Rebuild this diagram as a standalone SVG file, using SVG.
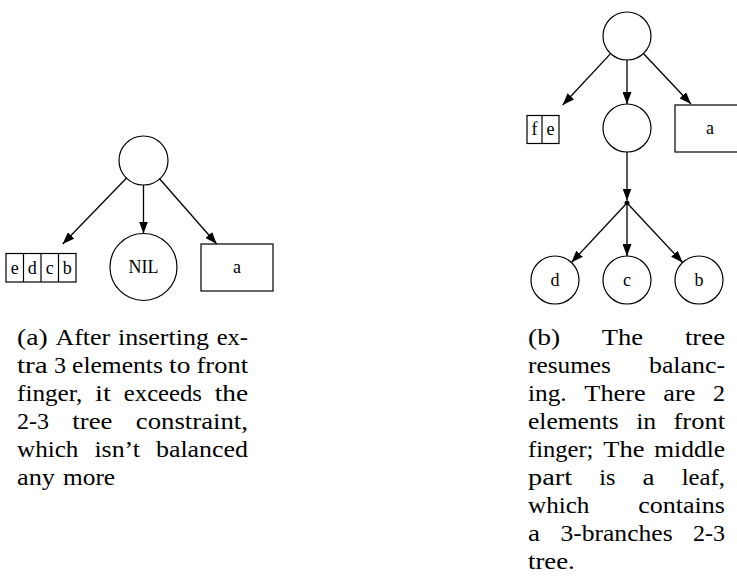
<svg xmlns="http://www.w3.org/2000/svg" width="737" height="583" viewBox="0 0 737 583">
<style>
.n{fill:none;stroke:#000;stroke-width:1.2}
.lbl{font-size:18px;text-anchor:middle;fill:#000}
.cap text{font-size:24px;fill:#000}
.e{stroke:#000;stroke-width:1.3;fill:none;marker-end:url(#ah)}
</style>
<defs>
<marker id="ah" markerWidth="12" markerHeight="9" refX="12" refY="4.5" orient="auto" markerUnits="userSpaceOnUse"><path d="M0,0 L12,4.5 L0,9 z" fill="#000"/></marker>
</defs>
<rect width="737" height="583" fill="#fff"/>
<g font-family="'Liberation Serif', 'Times New Roman', 'DejaVu Serif', serif">
<!-- left tree -->
<g id="a-root"><circle class="n" cx="143.5" cy="160.5" r="24.5"/></g>
<g id="a-front">
<rect class="n" x="6" y="253.5" width="70" height="28.5"/>
<line class="n" x1="23.5" y1="253.5" x2="23.5" y2="282"/>
<line class="n" x1="41" y1="253.5" x2="41" y2="282"/>
<line class="n" x1="58.5" y1="253.5" x2="58.5" y2="282"/>
<text class="lbl" x="14.75" y="273.5">e</text>
<text class="lbl" x="32.25" y="273.5">d</text>
<text class="lbl" x="49.75" y="273.5">c</text>
<text class="lbl" x="67.25" y="273.5">b</text>
</g>
<g id="a-mid"><circle class="n" cx="143.5" cy="267" r="33.5"/><text class="lbl" x="143.5" y="273">NIL</text></g>
<g id="a-rear"><rect class="n" x="201" y="244" width="72" height="47"/><text class="lbl" x="237" y="273">a</text></g>
<!-- right tree -->
<g id="b-root"><circle class="n" cx="627" cy="36" r="24"/></g>
<g id="b-front">
<rect class="n" x="527" y="115.5" width="32" height="28"/>
<line class="n" x1="542" y1="115.5" x2="542" y2="143.5"/>
<text class="lbl" x="534.5" y="135">f</text>
<text class="lbl" x="550.5" y="135">e</text>
</g>
<g id="b-mid"><circle class="n" cx="627" cy="128" r="24"/></g>
<g id="b-rear"><rect class="n" x="675" y="105" width="70" height="47"/><text class="lbl" x="710" y="134">a</text></g>
<g id="b-leaf"><circle cx="627" cy="203" r="2.5" fill="#000"/></g>
<g id="b-d"><circle class="n" cx="555" cy="280" r="24"/><text class="lbl" x="555" y="286">d</text></g>
<g id="b-c"><circle class="n" cx="627" cy="280" r="24"/><text class="lbl" x="627" y="286">c</text></g>
<g id="b-b"><circle class="n" cx="699" cy="280" r="24"/><text class="lbl" x="699" y="286">b</text></g>
<g id="connectors">
<path class="e" d="M126.8,177.8 L62.7,244"/>
<path class="e" d="M143.5,185 L143.5,233.5"/>
<path class="e" d="M159.3,178.5 L216.7,244"/>
<path class="e" d="M610.6,53.6 L562.7,105"/>
<path class="e" d="M627,60 L627,104"/>
<path class="e" d="M643.4,53.5 L691,104"/>
<path class="e" d="M627,152 L627,200.5"/>
<path class="e" d="M625.3,204.8 L571.4,262.5"/>
<path class="e" d="M627,205.5 L627,256"/>
<path class="e" d="M628.7,204.8 L682.6,262.5"/>
</g>
<!-- captions -->
<g id="caption-a" class="cap" lengthAdjust="spacingAndGlyphs">
<text y="344.5" x="17" textLength="30.67" lengthAdjust="spacingAndGlyphs">(a)</text>
<text y="344.5" x="55.46" textLength="54.74" lengthAdjust="spacingAndGlyphs">After</text>
<text y="344.5" x="117.99" textLength="90.89" lengthAdjust="spacingAndGlyphs">inserting</text>
<text y="344.5" x="216.67" textLength="31.32" lengthAdjust="spacingAndGlyphs">ex-</text>
<text y="372.6" x="17" textLength="30.74" lengthAdjust="spacingAndGlyphs">tra</text>
<text y="372.6" x="53.92" textLength="12" lengthAdjust="spacingAndGlyphs">3</text>
<text y="372.6" x="72.1" textLength="90.77" lengthAdjust="spacingAndGlyphs">elements</text>
<text y="372.6" x="169.05" textLength="21.34" lengthAdjust="spacingAndGlyphs">to</text>
<text y="372.6" x="196.57" textLength="51.43" lengthAdjust="spacingAndGlyphs">front</text>
<text y="400.7" x="17" textLength="65.42" lengthAdjust="spacingAndGlyphs">finger,</text>
<text y="400.7" x="95.13" textLength="16.01" lengthAdjust="spacingAndGlyphs">it</text>
<text y="400.7" x="123.85" textLength="78.1" lengthAdjust="spacingAndGlyphs">exceeds</text>
<text y="400.7" x="214.66" textLength="33.34" lengthAdjust="spacingAndGlyphs">the</text>
<text y="428.8" x="17" textLength="31.99" lengthAdjust="spacingAndGlyphs">2-3</text>
<text y="428.8" x="72.36" textLength="40.06" lengthAdjust="spacingAndGlyphs">tree</text>
<text y="428.8" x="135.79" textLength="112.22" lengthAdjust="spacingAndGlyphs">constraint,</text>
<text y="456.9" x="17" textLength="61.34" lengthAdjust="spacingAndGlyphs">which</text>
<text y="456.9" x="94.42" textLength="45.48" lengthAdjust="spacingAndGlyphs">isn’t</text>
<text y="456.9" x="155.98" textLength="92.02" lengthAdjust="spacingAndGlyphs">balanced</text>
<text y="485" x="17" textLength="38.02" lengthAdjust="spacingAndGlyphs">any</text>
<text y="485" x="63.02" textLength="52.06" lengthAdjust="spacingAndGlyphs">more</text>
</g>
<g id="caption-b" class="cap">
<text y="344.5" x="528" textLength="32.02" lengthAdjust="spacingAndGlyphs">(b)</text>
<text y="344.5" x="601.82" textLength="41.33" lengthAdjust="spacingAndGlyphs">The</text>
<text y="344.5" x="684.95" textLength="40.06" lengthAdjust="spacingAndGlyphs">tree</text>
<text y="372.6" x="528" textLength="82.97" lengthAdjust="spacingAndGlyphs">resumes</text>
<text y="372.6" x="648.99" textLength="76.01" lengthAdjust="spacingAndGlyphs">balanc-</text>
<text y="400.7" x="528" textLength="38.69" lengthAdjust="spacingAndGlyphs">ing.</text>
<text y="400.7" x="584.31" textLength="61.39" lengthAdjust="spacingAndGlyphs">There</text>
<text y="400.7" x="663.32" textLength="32.06" lengthAdjust="spacingAndGlyphs">are</text>
<text y="400.7" x="713" textLength="12" lengthAdjust="spacingAndGlyphs">2</text>
<text y="428.8" x="528" textLength="90.77" lengthAdjust="spacingAndGlyphs">elements</text>
<text y="428.8" x="636.16" textLength="20.02" lengthAdjust="spacingAndGlyphs">in</text>
<text y="428.8" x="673.57" textLength="51.43" lengthAdjust="spacingAndGlyphs">front</text>
<text y="456.9" x="528" textLength="65.42" lengthAdjust="spacingAndGlyphs">finger;</text>
<text y="456.9" x="603.21" textLength="41.33" lengthAdjust="spacingAndGlyphs">The</text>
<text y="456.9" x="654.33" textLength="70.68" lengthAdjust="spacingAndGlyphs">middle</text>
<text y="485" x="528" textLength="44.09" lengthAdjust="spacingAndGlyphs">part</text>
<text y="485" x="599.24" textLength="16.13" lengthAdjust="spacingAndGlyphs">is</text>
<text y="485" x="642.52" textLength="12" lengthAdjust="spacingAndGlyphs">a</text>
<text y="485" x="681.67" textLength="43.34" lengthAdjust="spacingAndGlyphs">leaf,</text>
<text y="513.1" x="528" textLength="61.34" lengthAdjust="spacingAndGlyphs">which</text>
<text y="513.1" x="638.19" textLength="86.81" lengthAdjust="spacingAndGlyphs">contains</text>
<text y="541.2" x="528" textLength="12" lengthAdjust="spacingAndGlyphs">a</text>
<text y="541.2" x="560.41" textLength="112.2" lengthAdjust="spacingAndGlyphs">3-branches</text>
<text y="541.2" x="693.02" textLength="31.99" lengthAdjust="spacingAndGlyphs">2-3</text>
<text y="569.3" x="528" textLength="46.73" lengthAdjust="spacingAndGlyphs">tree.</text>
</g>
</g>
</svg>
